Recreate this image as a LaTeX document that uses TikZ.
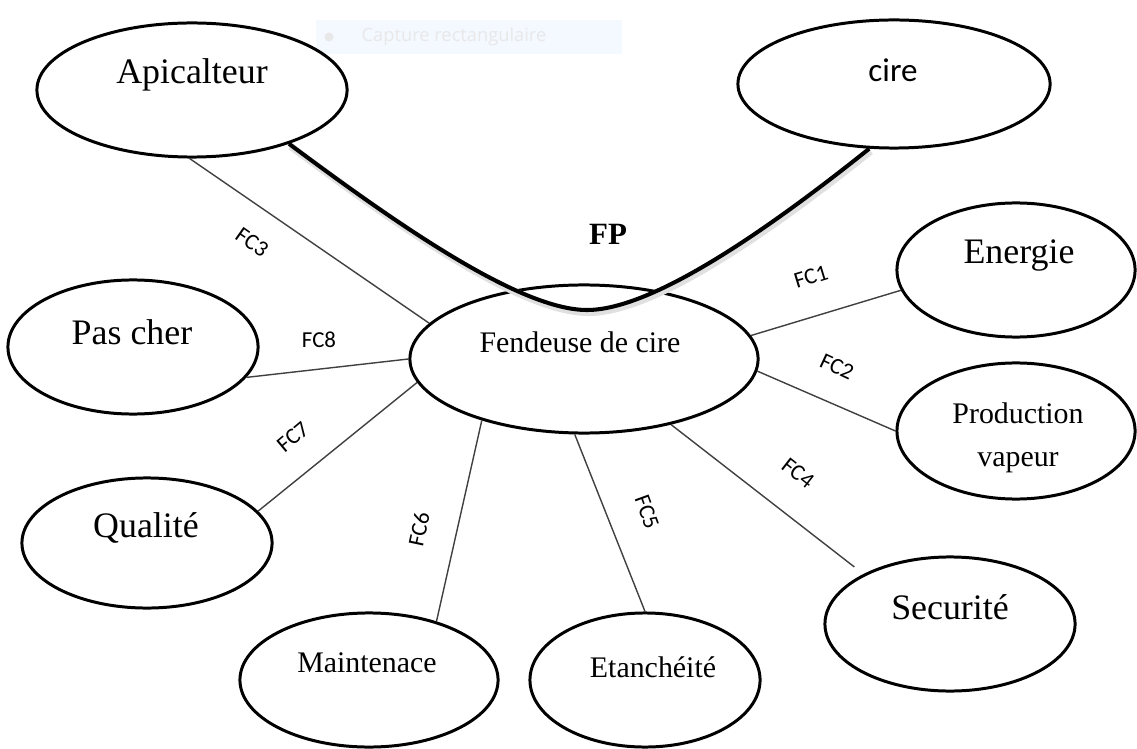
\documentclass[tikz,border=0pt]{standalone}
\usepackage{fontspec}
\setmainfont{Liberation Serif}
\newfontfamily\calibfont{Carlito}
\newfontfamily\uifont{Open Sans}
\usepackage{tikz}
\usetikzlibrary{shapes.geometric}
\definecolor{captblue}{RGB}{244,248,255}
\definecolor{captgray}{RGB}{232,232,232}

\begin{document}
\begin{tikzpicture}[x=0.01cm,y=0.01cm,
  bubble/.style={ellipse,draw=black,line width=0.85pt,fill=white,inner sep=0pt},
  bigtxt/.style={font=\fontsize{10.2}{12}\selectfont,inner sep=0pt},
  smalltxt/.style={font=\fontsize{8.5}{12.2}\selectfont,inner sep=0pt,align=center},
  fcline/.style={draw=black!75,line width=0.4pt},
  fclabel/.style={font=\calibfont\fontsize{6.5}{7}\selectfont,inner sep=0.5pt},
  fpline/.style={draw=black,line width=1.15pt}]
\useasboundingbox (0,0) rectangle (1137,-749);

% faint screenshot tag
\node[rectangle,fill=captblue,inner sep=0pt,minimum width=3.06cm,minimum height=0.33cm] (captbox) at (469,-37) {};
\node[circle,fill=captgray,inner sep=0pt,minimum size=0.09cm] (captdot) at (329,-37) {};
\node[font=\uifont\fontsize{5.2}{6}\selectfont,text=captgray,inner sep=0pt] (capt) at (454,-37) {Capture rectangulaire};

% ellipses
\node[bubble,minimum width=3.10cm,minimum height=1.34cm] (api) at (192,-90) {};
\node[bubble,minimum width=3.12cm,minimum height=1.28cm] (cire) at (894,-84) {};
\node[bubble,minimum width=2.38cm,minimum height=1.34cm] (ener) at (1016,-270) {};
\node[bubble,minimum width=2.38cm,minimum height=1.36cm] (prod) at (1016,-431) {};
\node[bubble,minimum width=2.50cm,minimum height=1.34cm] (secu) at (950,-624) {};
\node[bubble,minimum width=2.30cm,minimum height=1.34cm] (etan) at (645,-680) {};
\node[bubble,minimum width=2.58cm,minimum height=1.34cm] (maint) at (369,-680) {};
\node[bubble,minimum width=2.50cm,minimum height=1.30cm] (qual) at (147,-543) {};
\node[bubble,minimum width=2.50cm,minimum height=1.34cm] (pas) at (133,-347) {};
\node[bubble,minimum width=3.48cm,minimum height=1.48cm] (fend) at (584,-359) {};

% texts
\node[bigtxt] (apitxt) at (192,-75) {Apicalteur};
\node[font=\calibfont\fontsize{9.4}{11}\selectfont,inner sep=0pt] (ciretxt) at (893,-70) {cire};
\node[bigtxt] (enertxt) at (1019,-255) {Energie};
\node[smalltxt] (prodtxt) at (1018,-438) {Production\\vapeur};
\node[bigtxt] (secutxt) at (950,-607) {Securité};
\node[smalltxt] (etantxt) at (653,-667) {Etanchéité};
\node[smalltxt] (mainttxt) at (367,-663) {Maintenace};
\node[bigtxt] (qualtxt) at (146,-528) {Qualité};
\node[bigtxt] (pastxt) at (132,-332) {Pas cher};
\node[smalltxt] (fendtxt) at (580,-342) {Fendeuse de cire};
\node[font=\bfseries\fontsize{8.8}{10}\selectfont,inner sep=0pt] (fp) at (608,-234) {FP};

% FC links
\draw[fcline] (fend.8) -- (ener.-170);
\draw[fcline] (fend.-4) -- (prod.180);
\draw[fcline] (fend.167) -- (api.-92);
\draw[fcline,shorten >=0.115cm] (fend.-37) -- (secu.150);
\draw[fcline] (fend.-97) -- (etan.90);
\draw[fcline] (fend.-149) -- (maint.41);
\draw[fcline] (fend.-172) -- (qual.16);
\draw[fcline] (fend.180) -- (pas.-15);

\node[fclabel,rotate=17] (fc1) at (811,-277) {FC1};
\node[fclabel,rotate=-25] (fc2) at (837,-367) {FC2};
\node[fclabel,rotate=-35] (fc3) at (252,-242) {FC3};
\node[fclabel,rotate=-38] (fc4) at (798,-473) {FC4};
\node[fclabel,rotate=-70] (fc5) at (647,-512) {FC5};
\node[fclabel,rotate=78] (fc6) at (419,-529) {FC6};
\node[fclabel,rotate=40] (fc7) at (293,-437) {FC7};
\node[fclabel] (fc8) at (319,-340) {FC8};

% FP curve with its soft shadow
\coordinate (fpbot) at (587,-310);
\draw[draw=black!12,line width=2pt,transform canvas={shift={(0.015cm,-0.025cm)}}]
  (api.-29) .. controls (398,-225) and (520,-310) .. (fpbot)
  .. controls (650,-310) and (760,-236) .. (cire.-111);
\draw[fpline] (api.-29) .. controls (398,-225) and (520,-310) .. (fpbot)
  .. controls (650,-310) and (760,-236) .. (cire.-111);
\end{tikzpicture}
\end{document}
